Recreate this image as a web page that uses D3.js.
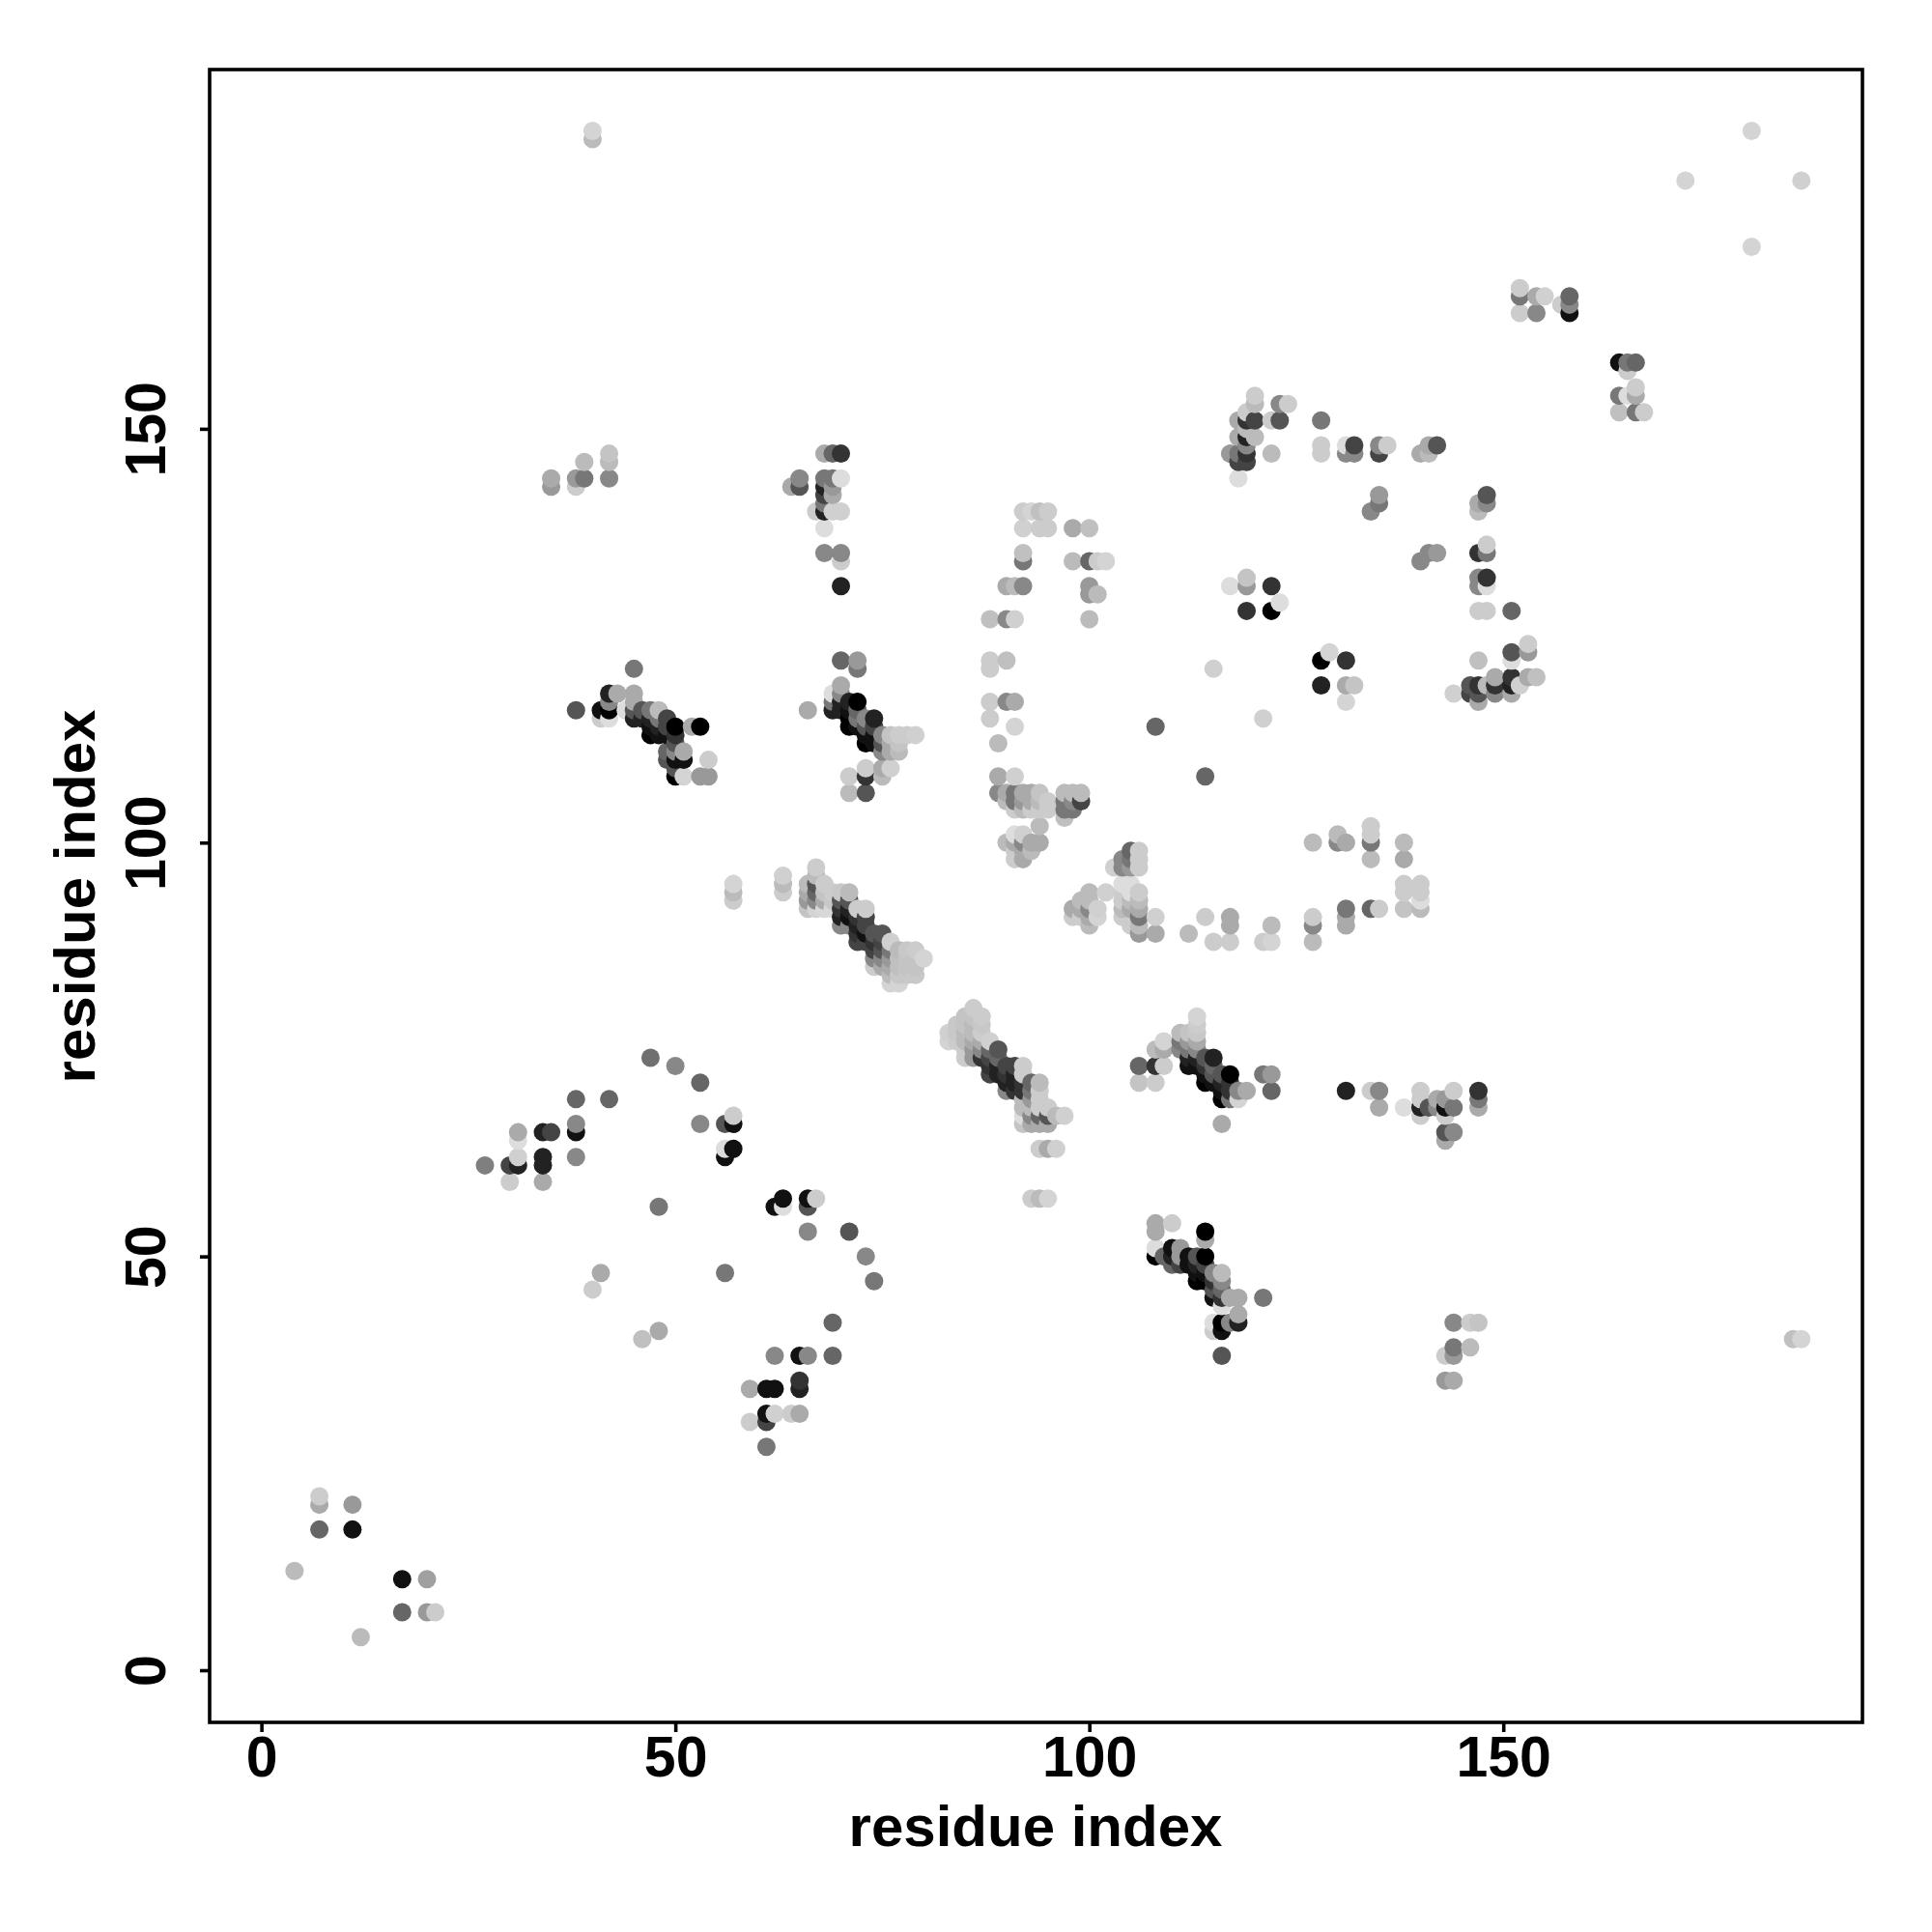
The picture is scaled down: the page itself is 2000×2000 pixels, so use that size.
<!DOCTYPE html>
<html><head><meta charset="utf-8">
<script src="https://cdnjs.cloudflare.com/ajax/libs/d3/7.8.5/d3.min.js"></script>
<style>html,body{margin:0;padding:0;background:#fff}</style></head>
<body><svg id="c" width="2000" height="2000"></svg>
<script>
// each contact: [residue i, residue j, grey level 0-255]
const lowerLeft=[[27,61,127],[30,61,68],[31,61,34],[30,59,204],[31,64,221],[31,65,170],[31,62,208],[34,65,34],[35,65,68],[34,61,34],[34,62,34],[34,59,170],[38,69,102],[42,69,102],[38,65,17],[38,66,136],[38,62,136],[47,74,112],[50,73,136],[53,71,102],[53,66,136],[56,66,85],[57,66,17],[57,67,204],[56,62,17],[56,63,221],[57,63,17],[48,56,119],[56,48,119],[41,48,170],[40,46,204],[48,41,170],[46,40,192],[62,56,17],[63,56,221],[63,57,17],[66,56,85],[66,57,17],[67,57,204],[66,53,136],[71,53,85],[73,50,136],[74,47,119],[69,42,102],[69,38,102],[62,38,136],[65,38,17],[66,38,136],[59,34,170],[61,34,17],[62,34,17],[65,34,34],[65,35,51],[59,30,204],[61,30,68],[61,31,17],[62,31,208],[64,31,204],[65,31,170],[61,27,119],[7,20,170],[7,21,204],[11,20,153],[7,17,102],[11,17,17],[4,12,187],[17,11,17],[20,11,160],[17,7,102],[20,7,153],[21,7,204],[12,4,187]];
const lowerMid=[[108,54,170],[110,54,204],[108,53,170],[114,52,170],[114,53,0],[108,50,0],[108,51,221],[109,50,102],[110,51,17],[110,50,34],[110,49,102],[111,51,153],[111,50,153],[111,49,68],[112,50,17],[112,49,17],[113,48,17],[113,49,34],[113,50,85],[113,47,0],[114,50,0],[114,49,68],[114,48,17],[114,47,0],[115,48,136],[115,47,51],[115,46,85],[115,45,17],[116,48,187],[116,47,136],[116,46,102],[116,45,51],[116,44,221],[117,45,170],[118,45,170],[121,45,119],[115,42,221],[115,41,204],[116,41,17],[116,42,0],[117,42,136],[118,42,34],[118,43,170],[116,38,85]];
const lowerRight=[[144,42,136],[146,42,204],[147,42,196],[143,38,204],[144,38,153],[144,39,119],[146,39,187],[143,35,153],[144,35,170],[185,40,192],[186,40,212]];
const midRight=[[131,70,34],[134,70,204],[135,70,136],[135,68,170],[138,68,221],[140,67,204],[140,68,34],[140,69,204],[140,70,204],[141,68,85],[142,69,170],[142,68,136],[143,67,204],[143,68,17],[143,69,153],[144,68,119],[144,70,204],[143,64,170],[143,65,85],[144,65,136],[147,68,170],[147,69,119],[147,70,51]];
const midCentre=[[106,73,102],[106,71,196],[108,71,204],[108,75,187],[108,73,51],[109,73,204],[109,75,170],[109,76,212],[111,75,136],[111,76,119],[111,77,187],[112,73,17],[112,74,34],[112,75,119],[112,76,153],[112,77,196],[113,73,17],[113,74,34],[113,75,136],[113,76,170],[113,77,200],[113,78,204],[113,79,212],[114,71,0],[114,72,17],[114,73,51],[114,74,85],[115,71,17],[115,72,85],[115,73,102],[115,74,34],[116,69,0],[116,70,17],[116,71,34],[116,72,85],[117,69,119],[117,70,51],[117,71,51],[117,72,0],[118,69,212],[118,70,136],[119,70,170],[116,66,170],[121,72,119],[122,72,153],[122,70,102]];
const diagonalLower=[[83,77,208],[83,76,212],[84,78,200],[84,77,200],[84,76,204],[85,79,196],[85,78,196],[85,77,187],[85,76,187],[85,75,204],[85,74,204],[86,80,204],[86,79,196],[86,78,187],[86,77,187],[86,76,170],[86,75,153],[86,74,153],[87,79,204],[87,78,200],[87,77,204],[87,76,170],[87,75,136],[87,74,51],[88,76,208],[88,75,102],[88,74,68],[88,73,51],[88,72,68],[89,75,85],[89,74,102],[89,73,34],[89,72,34],[90,73,68],[90,72,51],[90,71,34],[90,70,136],[91,73,68],[91,72,34],[91,71,34],[91,70,51],[92,73,204],[92,72,204],[92,71,51],[92,70,51],[92,69,187],[92,68,187],[92,67,221],[92,66,196],[93,71,102],[93,70,119],[93,69,153],[93,68,187],[93,67,136],[93,66,170],[94,71,187],[94,70,204],[94,69,204],[94,68,204],[94,67,102],[94,66,170],[95,68,204],[95,67,85],[95,66,170],[96,67,187],[97,67,208],[94,63,204],[95,63,170],[96,63,208],[93,57,204],[94,57,187],[95,57,212]];
const diagonalUpper=[[57,93,204],[57,94,187],[57,95,212],[63,94,204],[63,95,187],[63,96,208],[66,92,196],[66,93,153],[66,94,170],[66,95,187],[67,92,212],[67,93,136],[67,94,102],[67,95,85],[67,96,187],[67,97,204],[68,92,216],[68,93,170],[68,94,196],[68,95,204],[69,92,216],[69,93,200],[69,94,204],[70,90,136],[70,91,34],[70,92,51],[70,93,85],[70,94,200],[71,90,136],[71,91,17],[71,92,34],[71,93,85],[71,94,187],[72,88,68],[72,89,51],[72,90,34],[72,91,51],[72,92,204],[73,88,68],[73,89,17],[73,90,68],[73,91,68],[73,92,204],[74,85,204],[74,86,136],[74,87,68],[74,88,51],[74,89,85],[75,85,170],[75,86,136],[75,87,85],[75,88,68],[75,89,85],[76,84,187],[76,83,212],[76,85,170],[76,86,153],[76,87,119],[76,88,208],[77,83,212],[77,84,200],[77,85,192],[77,86,192],[77,87,187],[78,84,200],[78,85,196],[78,86,196],[78,87,200],[79,84,200],[79,85,196],[79,86,196],[79,87,204],[80,86,212]];
const upperLeftA=[[38,116,85],[41,116,17],[41,115,204],[42,115,221],[42,116,0],[42,117,136],[42,118,34],[43,118,170],[44,116,221],[45,115,34],[45,116,85],[45,117,170],[45,118,170],[45,121,119],[46,115,34],[46,116,85],[47,115,34],[47,114,17],[47,113,0],[47,116,119],[48,113,17],[48,114,34],[48,115,119],[48,116,187],[49,115,68],[49,114,68],[49,113,17],[49,111,102],[49,110,85],[50,112,85],[50,113,51],[50,114,0],[50,111,136],[50,110,17],[50,109,85],[50,108,0],[51,110,17],[51,111,170],[51,108,212],[52,114,170],[53,114,0],[54,110,204],[53,108,153],[54,108,153]];
const upperLeftB=[[66,116,170],[70,122,102],[72,121,119],[72,122,153],[69,118,221],[69,117,119],[69,116,34],[70,116,34],[70,117,34],[70,118,136],[70,119,170],[71,114,0],[71,115,0],[71,116,17],[71,117,34],[72,114,17],[72,115,119],[72,116,102],[72,117,0],[73,112,0],[73,113,17],[73,114,85],[73,115,136],[74,112,17],[74,113,17],[74,114,68],[74,115,34],[75,113,136],[75,112,85],[75,111,136],[76,113,196],[76,112,170],[76,111,170],[77,113,204],[77,112,196],[77,111,187],[78,113,204],[79,113,208],[71,106,187],[71,108,204],[73,106,85],[73,108,51],[73,109,204],[75,108,187],[75,109,170],[76,109,208]];
const upperLeftC=[[40,185,187],[40,186,212],[35,143,153],[35,144,170],[38,143,204],[38,144,153],[39,144,119],[39,146,187],[42,144,136],[42,146,187],[42,147,196],[68,147,170],[69,147,102],[70,147,51],[64,143,170],[65,143,85],[65,144,136],[68,144,119],[69,144,119],[68,143,34],[69,143,153],[70,144,221],[68,142,68],[69,142,170],[68,141,119],[68,140,34],[67,140,204],[69,140,208],[70,140,208],[68,138,221],[68,135,136],[70,134,204],[70,135,136],[70,131,34]];
const topRight=[[180,186,212],[172,180,212],[186,180,208],[180,172,212],[152,166,119],[152,167,204],[152,164,204],[154,164,136],[154,166,170],[155,166,208],[157,165,204],[158,164,17],[158,165,136],[158,166,102],[164,158,17],[165,157,204],[165,158,119],[166,158,102],[164,154,119],[165,154,221],[166,154,170],[166,155,204],[164,152,192],[166,152,119],[167,152,204]];
const upperMid=[[120,153,187],[120,154,204],[123,153,136],[124,153,204],[118,151,170],[119,151,51],[119,152,204],[120,151,68],[122,151,204],[123,151,85],[118,149,170],[119,149,34],[120,149,187],[119,150,187],[117,147,153],[118,146,68],[118,147,119],[119,146,68],[119,147,51],[119,148,136],[122,147,187],[118,144,221],[128,151,119],[128,147,204],[128,148,204],[131,147,136],[132,147,136],[131,148,221],[132,148,68],[135,147,68],[135,148,136],[136,148,204],[140,147,170],[141,147,187],[141,148,170],[142,148,85],[135,141,119],[135,142,153],[134,140,136],[147,140,187],[147,141,170],[148,141,136],[148,142,85],[140,134,136],[141,135,136],[142,135,153],[147,135,51],[148,135,119],[148,136,204],[147,131,136],[147,132,136],[148,131,221],[148,132,51],[147,128,204],[148,128,204],[151,128,102],[151,122,221],[151,123,85],[153,123,153],[153,124,204],[147,122,192],[144,118,208],[146,118,68],[146,119,85],[147,117,170],[147,118,85],[147,119,51],[148,119,187],[149,118,136],[149,119,51],[149,120,170],[151,118,170],[151,119,34],[151,120,51],[152,119,208],[153,120,170],[154,120,192],[119,131,153],[119,132,196],[117,131,221],[122,131,51],[119,128,51],[122,128,0],[123,129,221],[115,121,208],[121,115,208],[108,114,102],[114,108,102],[128,122,0],[129,123,212],[131,122,51],[128,119,34],[131,119,170],[132,119,196],[131,117,212]];
const arcLeft=[[92,140,204],[93,140,212],[94,140,192],[95,140,204],[92,138,208],[94,138,204],[95,138,204],[98,138,170],[100,138,192],[92,134,119],[92,135,192],[98,134,187],[100,134,102],[101,134,204],[102,134,212],[90,131,170],[91,131,187],[92,131,136],[100,131,153],[100,130,153],[101,130,187],[100,127,187],[88,127,192],[90,127,136],[91,127,208],[88,121,204],[88,122,204],[90,122,192],[88,117,204],[90,117,136],[91,117,170],[88,115,204],[91,114,212],[89,112,187],[89,108,170],[91,108,208],[90,105,187],[91,105,119],[92,105,153],[93,105,170],[94,105,187],[95,105,204],[89,106,136],[90,106,170],[91,106,119],[92,106,170],[93,106,170],[94,106,196],[97,105,119],[98,105,136],[99,105,68],[97,106,187],[98,106,187],[99,106,187],[91,104,204],[92,104,187],[93,104,204],[94,104,204],[95,104,204],[97,104,119],[98,104,119],[97,103,192],[94,102,187],[91,98,204],[92,98,170],[91,99,204],[92,99,170],[93,99,187],[90,100,187],[91,100,170],[92,100,136],[93,100,170],[94,100,170],[91,101,221],[92,101,208]];
const arcRight=[[103,97,208],[104,98,136],[104,97,136],[105,99,102],[105,98,119],[105,97,153],[106,99,204],[106,98,204],[106,97,204],[104,95,221],[104,94,204],[105,95,221],[105,94,221],[106,94,204],[104,93,204],[104,92,187],[105,93,187],[105,92,170],[106,93,187],[106,92,170],[106,91,119],[104,91,204],[105,90,204],[106,90,187],[106,89,153],[108,91,208],[108,89,170],[98,92,170],[98,91,204],[99,93,187],[99,92,170],[99,91,204],[100,94,187],[100,93,187],[100,92,136],[100,91,170],[100,90,187],[101,92,208],[101,91,212],[102,94,208],[112,89,187],[114,91,204],[115,88,204],[117,91,170],[117,90,170],[117,88,204],[121,88,204],[122,88,212],[122,90,187],[127,88,187],[127,90,136],[127,91,204],[131,90,170],[131,91,170],[131,92,119],[134,92,102],[135,92,204],[138,92,196],[138,94,204],[138,95,204],[140,92,187],[140,93,221],[140,94,204],[140,95,204],[138,98,170],[138,100,187],[134,98,187],[134,100,119],[134,101,204],[134,102,204],[130,100,136],[130,101,187],[131,100,170],[127,100,187]];
const contactGroups=[lowerLeft,lowerMid,lowerRight,midRight,midCentre,diagonalLower,diagonalUpper,upperLeftA,upperLeftB,upperLeftC,topRight,upperMid,arcLeft,arcRight];
const xTickValues=[0,50,100,150], yTickValues=[0,50,100,150];
const xLabel="residue index", yLabel="residue index";

const svg=d3.select("#c");
const x=d3.scaleLinear().domain([0,150]).range([270.6,1556.2]);
const y=d3.scaleLinear().domain([0,150]).range([1729,443.9]);
const box={l:217,r:1928,t:72,b:1783};
const font='"Liberation Sans",Arial,sans-serif';

// the reference paints column by column, bottom to top
const contacts=contactGroups.flat().sort((a,b)=>d3.ascending(a[0],b[0])||d3.ascending(a[1],b[1]));

svg.append("g").selectAll("circle").data(contacts).join("circle")
 .attr("cx",d=>x(d[0])).attr("cy",d=>y(d[1])).attr("r",9.5)
 .attr("fill",d=>d3.rgb(d[2],d[2],d[2]).formatHex());

svg.append("rect").attr("x",box.l).attr("y",box.t).attr("width",box.r-box.l).attr("height",box.b-box.t)
 .attr("fill","none").attr("stroke","#000").attr("stroke-width",3.6);

const gx=svg.append("g").attr("transform",`translate(0,${box.b})`)
 .call(d3.axisBottom(x).tickValues(xTickValues).tickSize(10).tickFormat(d3.format("d")));
gx.select(".domain").remove();
gx.selectAll("line").attr("stroke","#000").attr("stroke-width",3.6);
gx.selectAll("text").attr("font-family",font).attr("font-weight","bold").attr("font-size",59).attr("fill","#000")
 .attr("dy",null).attr("y",56);

const gy=svg.append("g").attr("transform",`translate(${box.l},0)`)
 .call(d3.axisLeft(y).tickValues(yTickValues).tickSize(10).tickFormat(d3.format("d")));
gy.select(".domain").remove();
gy.selectAll("line").attr("stroke","#000").attr("stroke-width",3.6);
gy.selectAll("text").attr("font-family",font).attr("font-weight","bold").attr("font-size",59).attr("fill","#000")
 .attr("x",null).attr("dy",null).attr("text-anchor","middle").attr("transform","translate(-46,0) rotate(-90)");

svg.append("text").attr("x",1072).attr("y",1911).attr("text-anchor","middle").attr("font-family",font).attr("font-weight","bold").attr("font-size",60).text(xLabel);
svg.append("text").attr("transform","translate(98,928) rotate(-90)").attr("text-anchor","middle").attr("font-family",font).attr("font-weight","bold").attr("font-size",60).text(yLabel);
</script></body></html>
